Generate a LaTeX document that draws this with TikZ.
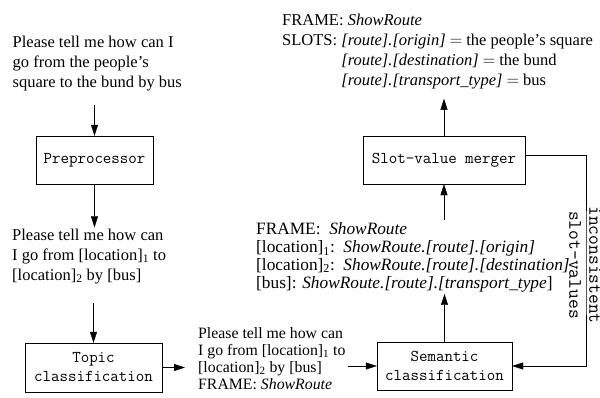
\documentclass[tikz,border=0pt]{standalone}
\usepackage{fontspec}
\setmainfont{Liberation Serif}
\usetikzlibrary{arrows.meta}
\newcommand{\loc}[1]{[location]\textsubscript{#1}}
\newcommand{\sr}{\textit{ShowRoute}}
\tikzset{
  stage/.style={draw, font=\ttfamily\fontsize{16.5}{19}\selectfont, align=center, inner sep=0pt},
  msg/.style={font=\fontsize{16.5}{#1}\selectfont, align=left, inner sep=0pt, anchor=base west},
  flow/.style={-{Triangle[length=11pt,width=7pt]}}
}

\begin{document}
\begin{tikzpicture}[x=1pt,y=-1pt]
			\useasboundingbox (0,0) rectangle (600,397);
			% processing stages
			\node[stage, minimum width=117pt, minimum height=48pt] (pre) at (94.5,160) {Preprocessor};
			\node[stage, minimum width=137pt, minimum height=49pt] (topic) at (93.5,367.5) {Topic\\classification};
			\node[stage, minimum width=135pt, minimum height=48pt] (sem) at (444.5,366) {Semantic\\classification};
			\node[stage, minimum width=162pt, minimum height=48pt] (merge) at (444,160) {Slot-value merger};
			% utterances and frames (placed at baseline of last line)
			\node[msg=20] (input) at (12.5,87) {Please tell me how can I\\go from the people's\\square to the bund by bus};
			\node[msg=20] (clean) at (12,280) {Please tell me how can\\I go from \loc{1} to\\\loc{2} by [bus]};
			\node[msg=17, font=\fontsize{15.8}{17}\selectfont] (topicout) at (198,389) {Please tell me how can\\I go from \loc{1} to\\\loc{2} by [bus]\\FRAME: \sr};
			\node[msg=17.7, font=\fontsize{17.3}{17.7}\selectfont] (semout) at (256,288) {FRAME:\ \ \sr\\
				\loc{1}:\ \ \textit{ShowRoute.[route].[origin]}\\
				\loc{2}:\ \ \textit{ShowRoute.[route].[destination]}\\
				{[bus]}: \textit{ShowRoute.[route].[transport\_type}]};
			\node[msg=19.7] (result) at (282,85) {FRAME: \sr\\
				SLOTS: \textit{[route].[origin]} $=$ the people's square\\
				\phantom{SLOTS: }\textit{[route].[destination]} $=$ the bund\\
				\phantom{SLOTS: }\textit{[route].[transport\_type]} $=$ bus};
			% feedback label
			\coordinate (fb) at (586,265);
			\node[font=\ttfamily\fontsize{19}{20}\selectfont, align=center, rotate=-90, inner sep=0pt] (incons) at ([xshift=-1pt]fb) {inconsistent\\slot-values};
			% connectors
			\draw[flow] (pre.north |- input.south) ++(0,14) -- (pre.north);
			\draw[flow] (pre.south) -- ([yshift=1pt]pre.south |- clean.north);
			\draw[flow] ([yshift=-19pt]topic.north |- clean.south) -- (topic.north);
			\draw[flow] (topic.east) -- ([xshift=-13pt]topic.east -| topicout.west);
			\draw[flow] ([xshift=2pt]sem.west -| topicout.east) -- (sem.west);
			\draw[flow] (sem.north) -- ([yshift=-2pt]sem.north |- semout.south);
			\draw[flow] ([yshift=3pt]merge.south |- semout.north) -- (merge.south);
			\draw[flow] (merge.north) -- ([yshift=-10pt]merge.north |- result.south);
			\draw[flow] ([yshift=5pt]merge.east) -| (fb) |- (sem.east);
		\end{tikzpicture}
\end{document}
